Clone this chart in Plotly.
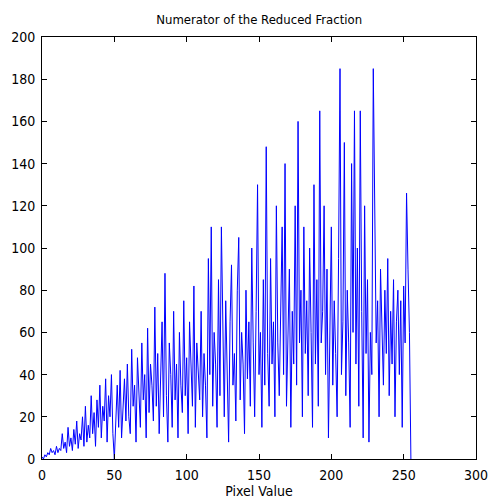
import plotly.graph_objects as go

pixel_values = list(range(256))
numerators = [
    1, 0, 2, 1, 3, 2, 5, 3, 4, 2,
    6, 3, 5, 4, 12, 5, 8, 3, 15, 6,
    10, 4, 14, 7, 18, 5, 12, 9, 20, 6,
    25, 8, 16, 10, 30, 12, 22, 6, 28, 15,
    35, 10, 25, 18, 38, 8, 30, 20, 40, 12,
    0, 22, 35, 15, 42, 10, 28, 38, 18, 45,
    20, 12, 52, 25, 35, 8, 48, 30, 15, 55,
    28, 40, 10, 62, 22, 45, 35, 18, 72, 25,
    50, 12, 38, 65, 20, 88, 30, 8, 55, 40,
    15, 70, 28, 45, 10, 60, 35, 22, 75, 30,
    48, 12, 65, 38, 25, 82, 15, 55, 40, 28,
    70, 20, 50, 35, 10, 95, 40, 110, 25, 60,
    45, 15, 85, 30, 110, 55, 20, 75, 40, 8,
    65, 92, 35, 50, 18, 80, 105, 28, 60, 45,
    12, 80, 38, 65, 25, 100, 55, 20, 70, 130,
    40, 60, 15, 85, 35, 148, 50, 25, 95, 45,
    65, 20, 120, 55, 30, 75, 110, 40, 140, 25,
    60, 90, 15, 70, 45, 120, 35, 160, 55, 80,
    20, 110, 50, 75, 30, 100, 60, 15, 130, 45,
    85, 25, 165, 55, 70, 120, 40, 90, 10, 60,
    110, 35, 75, 50, 20, 95, 185, 40, 65, 150,
    30, 80, 55, 15, 140, 60, 165, 45, 100, 25,
    165, 70, 10, 120, 50, 85, 8, 60, 40, 185,
    125, 55, 75, 20, 90, 65, 35, 80, 50, 95,
    30, 70, 45, 85, 20, 65, 80, 40, 75, 15,
    82, 55, 126, 90, 60, 0,
]

x_ticks = [0, 50, 100, 150, 200, 250, 300]
y_ticks = [0, 20, 40, 60, 80, 100, 120, 140, 160, 180, 200]

font_family = "DejaVu Sans Condensed, Liberation Sans Narrow, Arial Narrow, Liberation Sans, sans-serif"

fig = go.Figure()
fig.add_trace(go.Scatter(
    x=pixel_values, y=numerators, mode="lines",
    line=dict(color="#0000ff", width=1),
    showlegend=False,
))

axis_common = dict(
    showline=True, linecolor="black", linewidth=1, mirror="ticks",
    ticks="inside", ticklen=5, tickcolor="black",
    showgrid=False, zeroline=False, automargin=False,
    tickfont=dict(family=font_family, size=14, color="black"),
)
fig.update_layout(
    width=489, height=501,
    margin=dict(l=42, r=13, t=37, b=42),
    paper_bgcolor="white", plot_bgcolor="white",
    title=dict(text="Numerator of the Reduced Fraction", x=0.53, xanchor="center",
               y=1 - 19 / 501, yanchor="middle",
               font=dict(family=font_family, size=13, color="black")),
    xaxis=dict(range=[0, 300], tickvals=x_ticks, ticklabelstandoff=3,
               title=dict(text="Pixel Value", standoff=4,
                          font=dict(family=font_family, size=14, color="black")),
               **axis_common),
    yaxis=dict(range=[0, 200], tickvals=y_ticks, ticklabelstandoff=3, **axis_common),
)
fig.write_html("out.html")
